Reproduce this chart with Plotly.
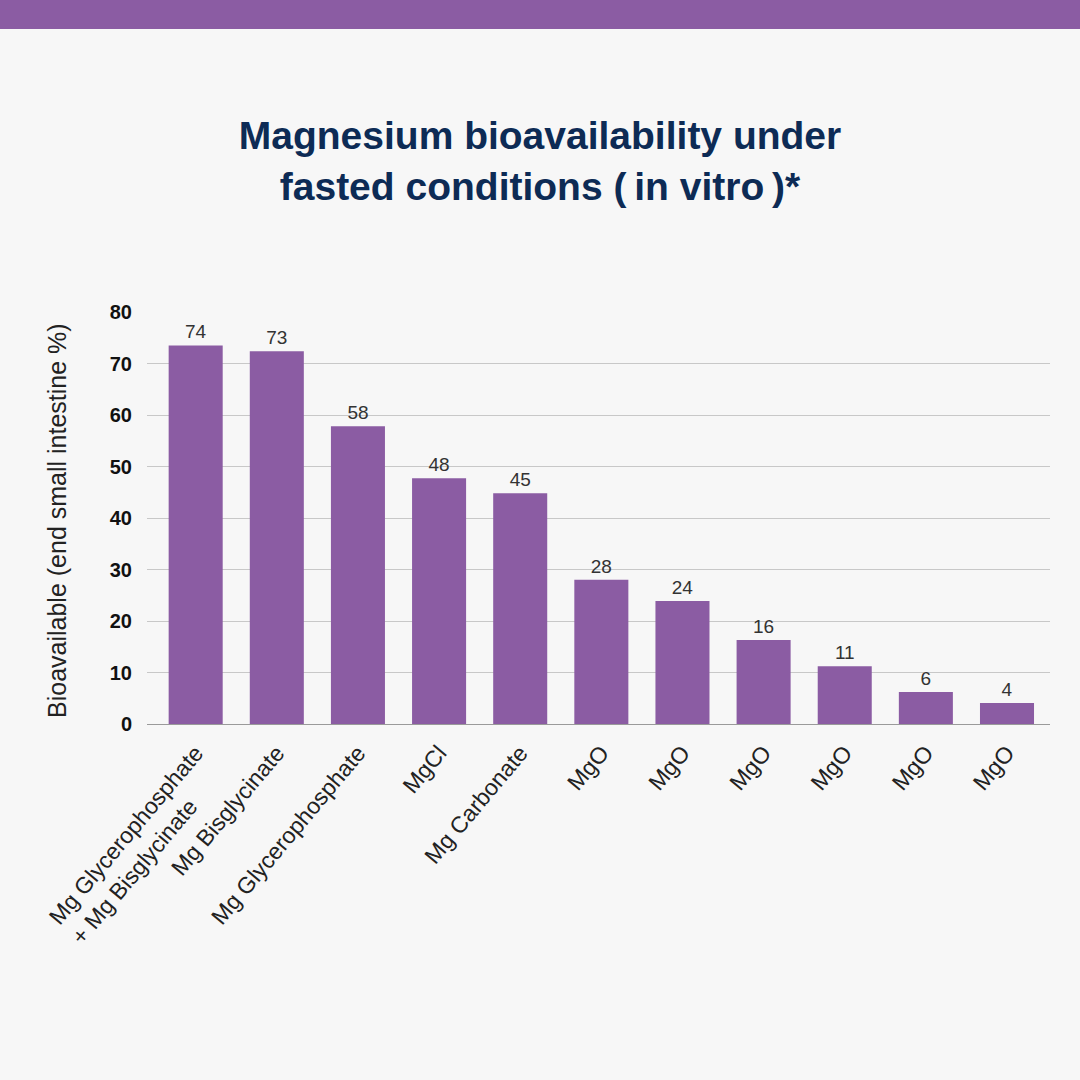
import plotly.graph_objects as go

# values
forms = [
    "Mg Glycerophosphate<br>+ Mg Bisglycinate" + "\u00a0" * 7,
    "Mg Bisglycinate",
    "Mg Glycerophosphate",
    "MgCl",
    "Mg Carbonate",
    "MgO",
    "MgO",
    "MgO",
    "MgO",
    "MgO",
    "MgO",
]
bioavail = [73.5, 72.4, 57.8, 47.7, 44.8, 28.0, 23.9, 16.3, 11.2, 6.2, 4.1]
bar_labels = ["74", "73", "58", "48", "45", "28", "24", "16", "11", "6", "4"]
yticks = [0, 10, 20, 30, 40, 50, 60, 70, 80]

PURPLE = "#8b5ca3"
NAVY = "#0d2b55"
BG = "#f7f7f7"
FONT = "Liberation Sans, Arial, Helvetica, sans-serif"

W, H = 1080, 1080
L, R, T, B = 147, 30, 312, 356
pw = W - L - R
ph = H - T - B

xs = list(range(len(forms)))

fig = go.Figure()
fig.add_trace(go.Bar(
    x=xs,
    y=bioavail,
    width=0.666,
    marker=dict(color=PURPLE, line=dict(width=0)),
    text=bar_labels,
    textposition="outside",
    textfont=dict(family=FONT, size=19, color="#333333"),
    cliponaxis=False,
    hoverinfo="skip",
))

# purple band across the top of the page
fig.add_shape(
    type="rect", xref="paper", yref="paper", layer="below",
    x0=(0 - L) / pw, x1=(W - L) / pw,
    y0=(H - B - 29) / ph, y1=(H - B + 5) / ph,
    fillcolor=PURPLE, line=dict(width=0),
)

fig.add_annotation(
    text="Bioavailable (end small intestine %)",
    xref="paper", yref="paper",
    x=(57 - L) / pw, y=(H - B - 521) / ph,
    textangle=-90, showarrow=False,
    font=dict(family=FONT, size=25, color="#222222"),
    xanchor="center", yanchor="middle",
)

fig.update_layout(
    width=W, height=H,
    margin=dict(l=L, r=R, t=T, b=B, pad=0),
    paper_bgcolor=BG,
    plot_bgcolor=BG,
    showlegend=False,
    title=dict(
        text="Magnesium bioavailability under<br>fasted conditions (\u2009in vitro\u2009)*",
        x=0.5, xref="container", xanchor="center",
        y=1 - 149 / H, yref="container", yanchor="middle",
        font=dict(family=FONT, size=39, color=NAVY, weight="bold"),
    ),
    xaxis=dict(
        range=[-0.6, 10.53],
        tickmode="array",
        tickvals=xs,
        ticktext=forms,
        tickangle=-50,
        tickfont=dict(family=FONT, size=23, color="#222222"),
        ticklabelstandoff=10,
        showgrid=False,
        zeroline=False,
        showline=False,
        ticks="",
        fixedrange=True,
    ),
    yaxis=dict(
        range=[0, 80],
        tickmode="array",
        tickvals=yticks,
        tickfont=dict(family=FONT, size=20, color="#111111", weight="bold"),
        showgrid=True,
        gridcolor="#c8c8c8",
        gridwidth=1,
        zeroline=True,
        zerolinecolor="#9a9a9a",
        zerolinewidth=1.2,
        showline=False,
        ticks="",
        ticklabelstandoff=14,
        fixedrange=True,
    ),
)

fig.write_html(
    "out.html",
    config={"displayModeBar": False},
    post_script="document.body.style.margin='0';document.body.style.background='#f7f7f7';",
)
